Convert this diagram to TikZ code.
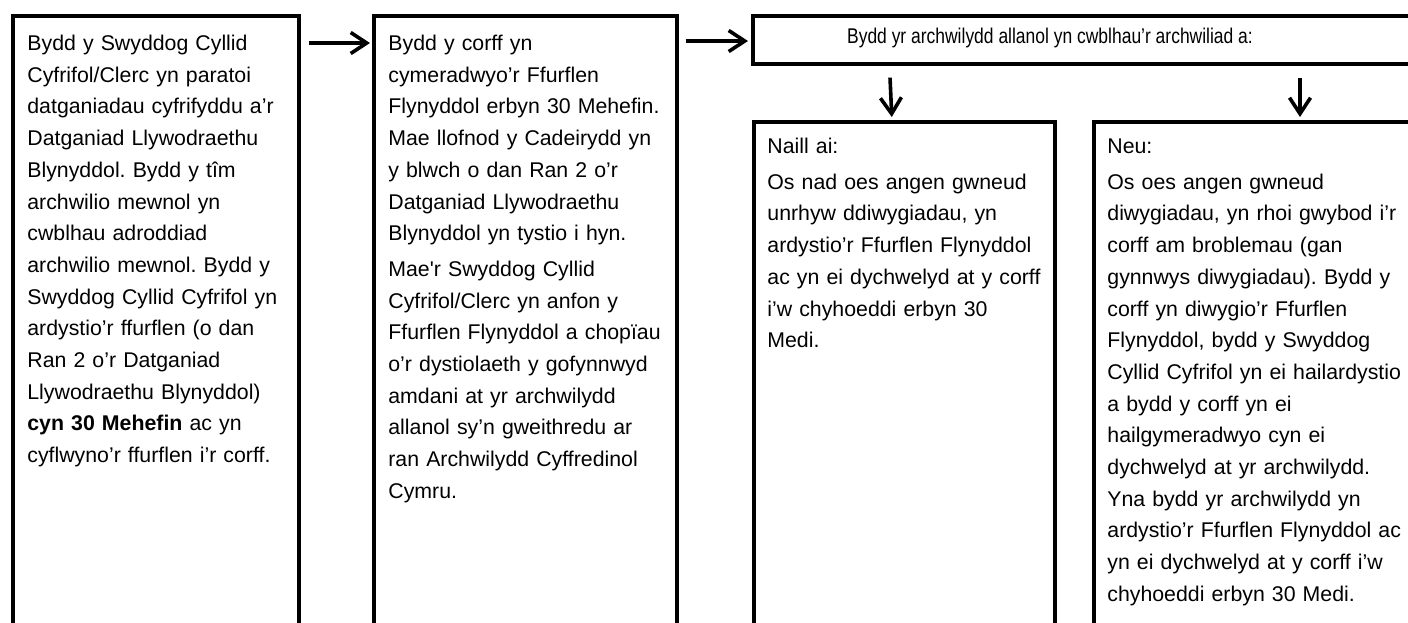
\documentclass[tikz,border=0pt]{standalone}
\usepackage{fontspec}
\setmainfont{Liberation Sans}
\newfontfamily\narrowsans[FakeStretch=0.82]{Liberation Sans}
\newfontfamily\plainsans{Liberation Sans}
\usetikzlibrary{arrows.meta}

\tikzset{
    frame/.style={draw, line width=1.8pt, inner sep=0pt, anchor=north west},
    para/.style={anchor=base west, inner sep=0pt, align=left, text width=170pt,
        font=\fontsize{10.65}{15.85}\selectfont},
    flow/.style={line width=1.8pt, -{Straight Barb[length=8pt,width=10.5pt]}}
}

\begin{document}
\frenchspacing
\begin{tikzpicture}[x=0.5pt, y=-0.5pt]
    \useasboundingbox (0,0) rectangle (1408,622);
    \clip (0,0) rectangle (1408,622);

    % Frames (open at the bottom and right)
    \node[frame, minimum width=143pt, minimum height=340pt] (cyfrifol) at (11,14) {};
    \node[frame, minimum width=151.5pt, minimum height=340pt] (corff) at (372,14) {};
    \node[frame, minimum width=340pt, minimum height=24pt] (allanol) at (751,14) {};
    \node[frame, minimum width=150.5pt, minimum height=300pt] (naill) at (752,120) {};
    \node[frame, minimum width=200pt, minimum height=300pt] (neu) at (1092,120) {};

    % Flow arrows
    \draw[flow] ([shift={(8,29)}]cyfrifol.north east) -- ([shift={(-2,29)}]corff.north west);
    \draw[flow] ([shift={(7,27)}]corff.north east) -- ([shift={(-3,27)}]allanol.north west);
    \draw[flow] ([shift={(139,12)}]allanol.south west) -- ([shift={(-12.5,-3)}]naill.north);
    \draw[flow] ([shift={(549,12)}]allanol.south west) -- ([shift={(208,-3)}]neu.north west);

    % Box texts
    \node[para] (cyfrifol-txt) at (27,50.5) {Bydd y Swyddog Cyllid\\
        Cyfrifol/Clerc yn paratoi\\ datganiadau cyfrifyddu a’r\\
        Datganiad Llywodraethu\\ Blynyddol. Bydd y tîm\\
        archwilio mewnol yn\\ cwblhau adroddiad\\
        archwilio mewnol. Bydd y\\ Swyddog Cyllid Cyfrifol yn\\
        ardystio’r ffurflen (o dan\\ Ran 2 o’r Datganiad\\
        Llywodraethu Blynyddol)\\ \textbf{cyn 30 Mehefin} ac yn\\
        cyflwyno’r ffurflen i’r corff.};

    \node[para] (corff-txt) at (388,50.5) {Bydd y corff yn\\
        cymeradwyo’r Ffurflen\\ Flynyddol erbyn 30 Mehefin.\\
        Mae llofnod y Cadeirydd yn\\ y blwch o dan Ran 2 o’r\\
        Datganiad Llywodraethu\\ Blynyddol yn tystio i hyn.\\[2pt]
        Mae{\plainsans'}r Swyddog Cyllid\\ Cyfrifol/Clerc yn anfon y\\
        Ffurflen Flynyddol a chopïau\\ o’r dystiolaeth y gofynnwyd\\
        amdani at yr archwilydd\\ allanol sy’n gweithredu ar\\
        ran Archwilydd Cyffredinol\\ Cymru.};

    \node[inner sep=0pt, font=\narrowsans\fontsize{10.65}{12}\selectfont] (allanol-txt)
        at (1050,38) {Bydd yr archwilydd allanol yn cwblhau’r archwiliad a:};

    \node[para] (naill-txt) at (767,153.5) {Naill ai:\\[2pt]
        Os nad oes angen gwneud\\ unrhyw ddiwygiadau, yn\\
        ardystio’r Ffurflen Flynyddol\\ ac yn ei dychwelyd at y corff\\
        i’w chyhoeddi erbyn 30\\ Medi.};

    \node[para] (neu-txt) at (1107,153.5) {Neu:\\[2pt]
        Os oes angen gwneud\\ diwygiadau, yn rhoi gwybod i’r\\
        corff am broblemau (gan\\ gynnwys diwygiadau). Bydd y\\
        corff yn diwygio’r Ffurflen\\ Flynyddol, bydd y Swyddog\\
        Cyllid Cyfrifol yn ei hailardystio\\ a bydd y corff yn ei\\
        hailgymeradwyo cyn ei\\ dychwelyd at yr archwilydd.\\
        Yna bydd yr archwilydd yn\\ ardystio’r Ffurflen Flynyddol ac\\
        yn ei dychwelyd at y corff i’w\\ chyhoeddi erbyn 30 Medi.};
\end{tikzpicture}
\end{document}
